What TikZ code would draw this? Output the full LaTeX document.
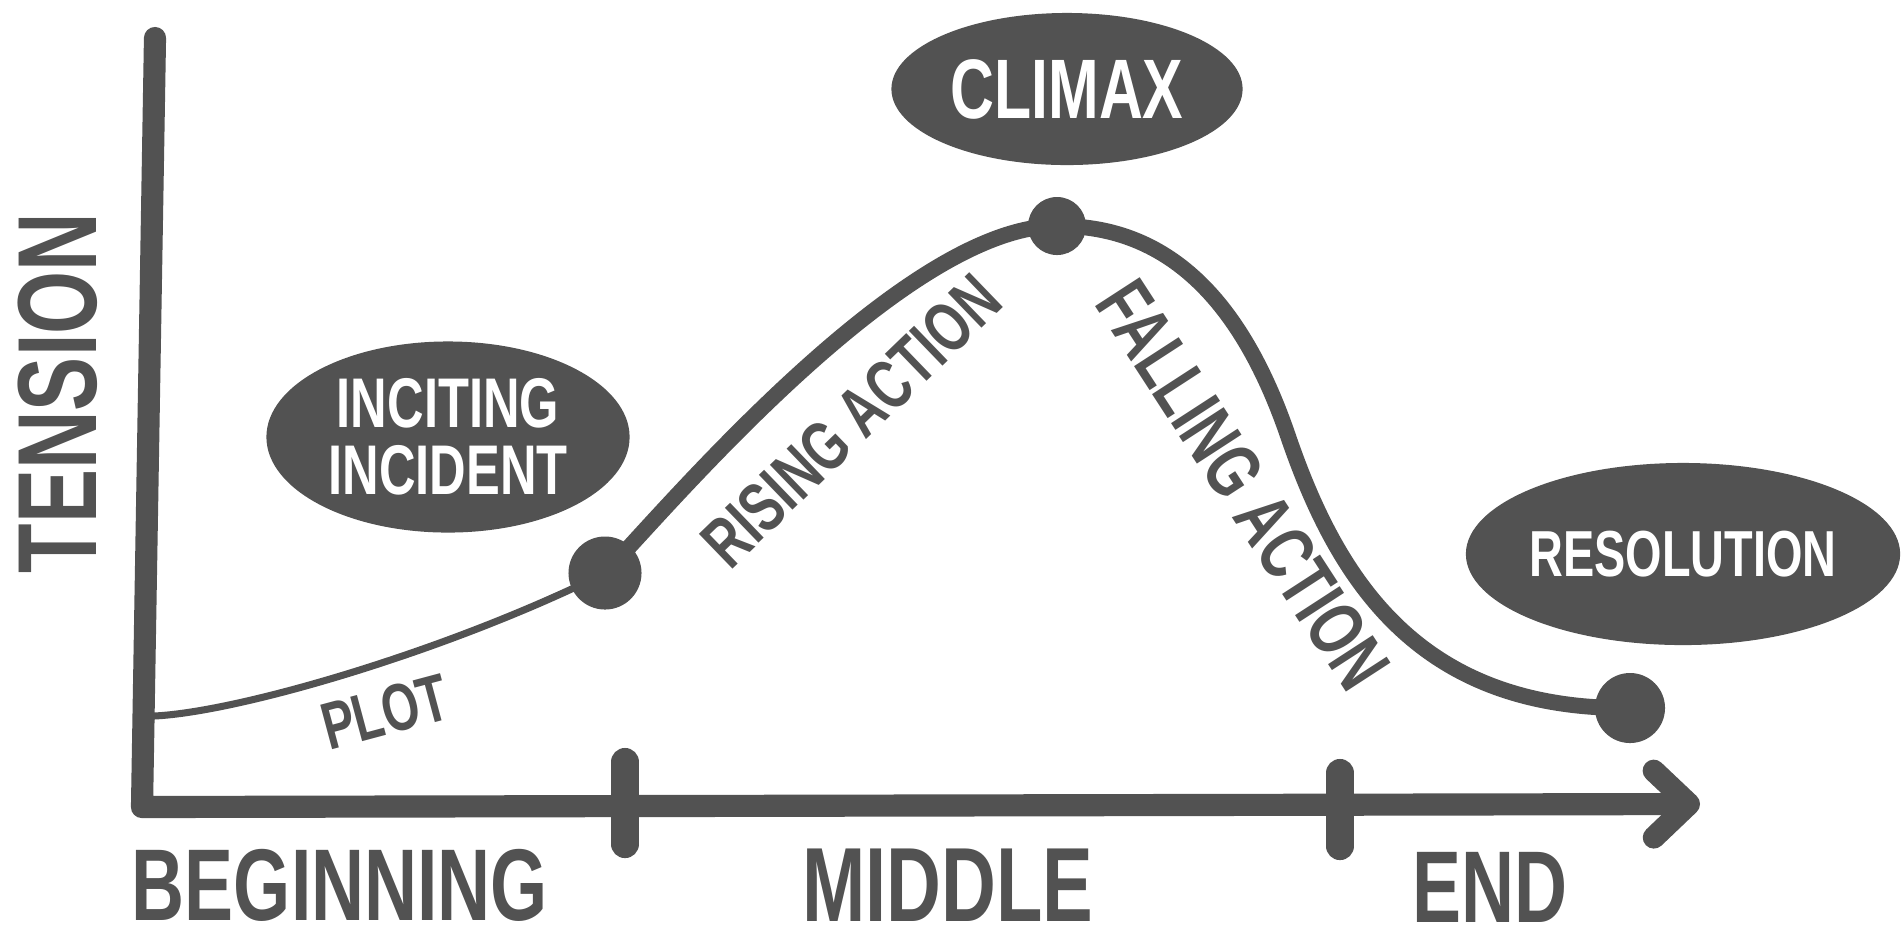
\documentclass[tikz,border=0pt]{standalone}
\usepackage{fontspec}
\setmainfont{Liberation Sans}
\newfontfamily\handfont{Liberation Sans}
\usepackage{tikz}
\usetikzlibrary{shapes.geometric,arrows.meta}
\definecolor{ink}{HTML}{525252}
\newcommand{\narrow}[1]{\scalebox{0.72}[1]{#1}}

\tikzset{
  axisline/.style={draw=ink, line width=6.3pt, line cap=round, line join=round},
  tickmark/.style={draw=ink, line width=8pt, line cap=round},
  thincurve/.style={draw=ink, line width=2pt, line cap=round},
  thickcurve/.style={draw=ink, line width=4.5pt, line cap=round},
  plotdot/.style={circle, fill=ink, inner sep=0pt, minimum size=#1},
  bubble/.style={ellipse, fill=ink, inner sep=0pt, text=white, align=center,
    font=\handfont\bfseries\fontsize{#1}{#1}\selectfont},
  lbl/.style={text=ink, inner sep=0pt, font=\handfont\bfseries\fontsize{#1}{#1}\selectfont},
  slanted/.style={lbl=#1, xscale=0.72}
}

\begin{document}
\begin{tikzpicture}[x=0.01cm, y=-0.01cm]
  \useasboundingbox (0,0) rectangle (1903,938);

  % axes
  \coordinate (ytop) at (155,38);
  \coordinate (origin) at (142,807);
  \coordinate (xend) at (1700,804);
  \draw[axisline, -{Straight Barb[length=10pt,width=19pt,round]}] (ytop) -- (origin) -- (xend);

  % act boundaries
  \draw[tickmark] (625,762) -- (625,844);
  \draw[tickmark] (1340,773) -- (1340,846);

  % story points
  \node[plotdot=0.73cm] (incite) at (605,573) {};
  \node[plotdot=0.58cm] (climax) at (1057,226) {};
  \node[plotdot=0.70cm] (resolve) at (1630,708) {};
  \coordinate (start) at (154,716);
  \coordinate (fallmid) at (1288,436);

  \draw[thincurve] (start) .. controls (240,712) and (450,650) .. (incite.center);
  \draw[thickcurve] (incite.center) .. controls (670,505) and (905,226) .. (climax.center)
    .. controls (1160,225) and (1238,290) .. (fallmid)
    .. controls (1338,582) and (1420,710) .. (resolve.center);

  % bubbles
  \node[bubble=20, minimum width=3.63cm, minimum height=1.91cm] (incitebub) at (448,437)
    {\narrow{INCITING}\\[-1pt]\narrow{INCIDENT}};
  \node[bubble=24, minimum width=3.51cm, minimum height=1.52cm] (climaxbub) at (1067,89) {\narrow{CLIMAX}};
  \node[bubble=18.5, minimum width=4.33cm, minimum height=1.82cm] (resolvebub) at (1683,554) {\narrow{RESOLUTION}};

  % labels
  \node[lbl=32, rotate=90] (tension) at (58,393) {\narrow{TENSION}};
  \node[lbl=29] (beginning) at (340,885) {\narrow{BEGINNING}};
  \node[lbl=30] (middle) at (948,885) {\narrow{MIDDLE}};
  \node[lbl=29] (ending) at (1490,887) {\narrow{END}};
  \node[rotate=15, slanted=19] (plotlbl) at (385,712) {PLOT};
  \node[rotate=44, slanted=20] (rising) at (851,421) {RISING ACTION};
  \node[rotate=-57, slanted=22] (falling) at (1243,485) {FALLING ACTION};
\end{tikzpicture}
\end{document}
